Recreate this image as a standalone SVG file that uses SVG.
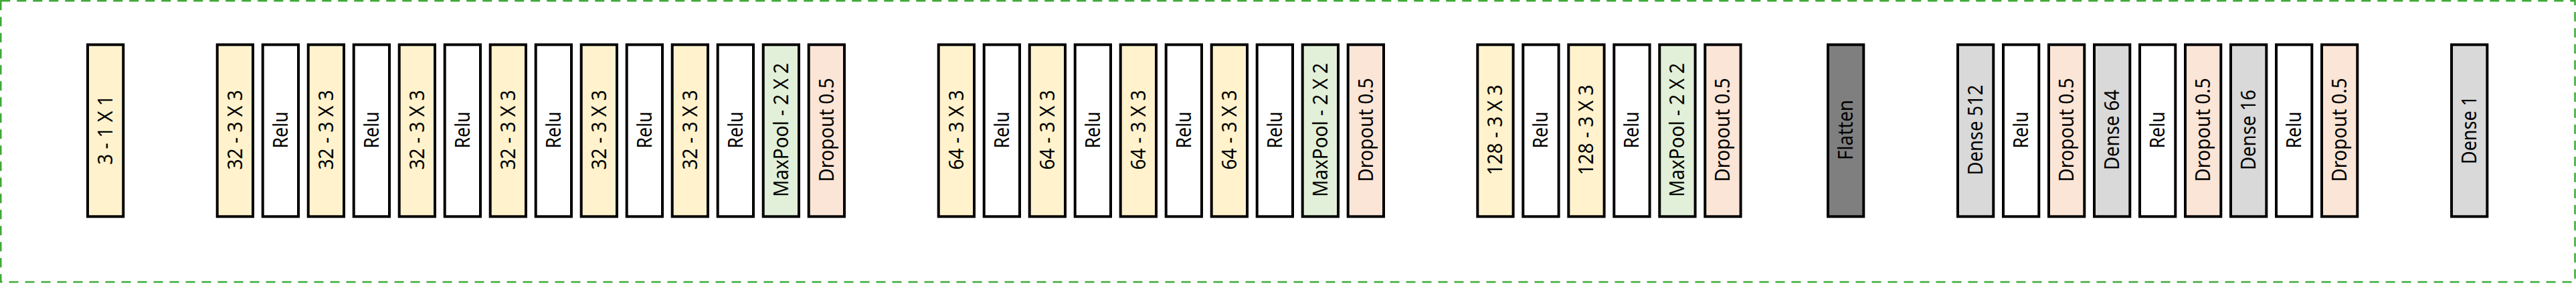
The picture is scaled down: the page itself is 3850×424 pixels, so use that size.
<svg xmlns="http://www.w3.org/2000/svg" width="3850" height="424" viewBox="0 0 3850 424">
<style>
  .box { stroke: #000; stroke-width: 4; }
  .conv { fill: #FFF2CC; }
  .relu { fill: #FFFFFF; }
  .pool { fill: #E2F0D9; }
  .drop { fill: #FBE5D6; }
  .dense { fill: #D9D9D9; }
  .flat { fill: #7F7F7F; }
  .lbl { font-family: "Noto Sans", "Open Sans", "Liberation Sans", sans-serif; font-size: 30px; fill: #000; text-anchor: middle; }
  .frame { fill: none; stroke: #3DAA36; stroke-width: 2.5; stroke-dasharray: 14 10; }
</style>
<rect class="frame" x="1.25" y="1.25" width="3847.25" height="419.75"/>
<g id="connectors"/>
<g id="input"><rect class="box conv" x="131" y="66.7" width="53.3" height="256.6"/><text class="lbl" transform="translate(157.65,194) rotate(-90)" x="0" y="10.5" textLength="104" lengthAdjust="spacingAndGlyphs">3 - 1 X 1</text></g>
<g id="g1-conv1"><rect class="box conv" x="324.7" y="66.7" width="53.3" height="256.6"/><text class="lbl" transform="translate(351.35,194) rotate(-90)" x="0" y="10.5" textLength="119" lengthAdjust="spacingAndGlyphs">32 - 3 X 3</text></g>
<g id="g1-relu1"><rect class="box relu" x="392.7" y="66.7" width="53.3" height="256.6"/><text class="lbl" transform="translate(419.35,194) rotate(-90)" x="0" y="10.5" textLength="55" lengthAdjust="spacingAndGlyphs">Relu</text></g>
<g id="g1-conv2"><rect class="box conv" x="460.7" y="66.7" width="53.3" height="256.6"/><text class="lbl" transform="translate(487.35,194) rotate(-90)" x="0" y="10.5" textLength="119" lengthAdjust="spacingAndGlyphs">32 - 3 X 3</text></g>
<g id="g1-relu2"><rect class="box relu" x="528.7" y="66.7" width="53.3" height="256.6"/><text class="lbl" transform="translate(555.35,194) rotate(-90)" x="0" y="10.5" textLength="55" lengthAdjust="spacingAndGlyphs">Relu</text></g>
<g id="g1-conv3"><rect class="box conv" x="596.7" y="66.7" width="53.3" height="256.6"/><text class="lbl" transform="translate(623.35,194) rotate(-90)" x="0" y="10.5" textLength="119" lengthAdjust="spacingAndGlyphs">32 - 3 X 3</text></g>
<g id="g1-relu3"><rect class="box relu" x="664.7" y="66.7" width="53.3" height="256.6"/><text class="lbl" transform="translate(691.35,194) rotate(-90)" x="0" y="10.5" textLength="55" lengthAdjust="spacingAndGlyphs">Relu</text></g>
<g id="g1-conv4"><rect class="box conv" x="732.7" y="66.7" width="53.3" height="256.6"/><text class="lbl" transform="translate(759.35,194) rotate(-90)" x="0" y="10.5" textLength="119" lengthAdjust="spacingAndGlyphs">32 - 3 X 3</text></g>
<g id="g1-relu4"><rect class="box relu" x="800.7" y="66.7" width="53.3" height="256.6"/><text class="lbl" transform="translate(827.35,194) rotate(-90)" x="0" y="10.5" textLength="55" lengthAdjust="spacingAndGlyphs">Relu</text></g>
<g id="g1-conv5"><rect class="box conv" x="868.7" y="66.7" width="53.3" height="256.6"/><text class="lbl" transform="translate(895.35,194) rotate(-90)" x="0" y="10.5" textLength="119" lengthAdjust="spacingAndGlyphs">32 - 3 X 3</text></g>
<g id="g1-relu5"><rect class="box relu" x="936.7" y="66.7" width="53.3" height="256.6"/><text class="lbl" transform="translate(963.35,194) rotate(-90)" x="0" y="10.5" textLength="55" lengthAdjust="spacingAndGlyphs">Relu</text></g>
<g id="g1-conv6"><rect class="box conv" x="1004.7" y="66.7" width="53.3" height="256.6"/><text class="lbl" transform="translate(1031.35,194) rotate(-90)" x="0" y="10.5" textLength="119" lengthAdjust="spacingAndGlyphs">32 - 3 X 3</text></g>
<g id="g1-relu6"><rect class="box relu" x="1072.7" y="66.7" width="53.3" height="256.6"/><text class="lbl" transform="translate(1099.35,194) rotate(-90)" x="0" y="10.5" textLength="55" lengthAdjust="spacingAndGlyphs">Relu</text></g>
<g id="g1-pool"><rect class="box pool" x="1140.7" y="66.7" width="53.3" height="256.6"/><text class="lbl" transform="translate(1167.35,194) rotate(-90)" x="0" y="10.5" textLength="200" lengthAdjust="spacingAndGlyphs">MaxPool - 2 X 2</text></g>
<g id="g1-drop"><rect class="box drop" x="1208.7" y="66.7" width="53.3" height="256.6"/><text class="lbl" transform="translate(1235.35,194) rotate(-90)" x="0" y="10.5" textLength="155" lengthAdjust="spacingAndGlyphs">Dropout 0.5</text></g>
<g id="g2-conv1"><rect class="box conv" x="1402.7" y="66.7" width="53.3" height="256.6"/><text class="lbl" transform="translate(1429.35,194) rotate(-90)" x="0" y="10.5" textLength="119" lengthAdjust="spacingAndGlyphs">64 - 3 X 3</text></g>
<g id="g2-relu1"><rect class="box relu" x="1470.7" y="66.7" width="53.3" height="256.6"/><text class="lbl" transform="translate(1497.35,194) rotate(-90)" x="0" y="10.5" textLength="55" lengthAdjust="spacingAndGlyphs">Relu</text></g>
<g id="g2-conv2"><rect class="box conv" x="1538.7" y="66.7" width="53.3" height="256.6"/><text class="lbl" transform="translate(1565.35,194) rotate(-90)" x="0" y="10.5" textLength="119" lengthAdjust="spacingAndGlyphs">64 - 3 X 3</text></g>
<g id="g2-relu2"><rect class="box relu" x="1606.7" y="66.7" width="53.3" height="256.6"/><text class="lbl" transform="translate(1633.35,194) rotate(-90)" x="0" y="10.5" textLength="55" lengthAdjust="spacingAndGlyphs">Relu</text></g>
<g id="g2-conv3"><rect class="box conv" x="1674.7" y="66.7" width="53.3" height="256.6"/><text class="lbl" transform="translate(1701.35,194) rotate(-90)" x="0" y="10.5" textLength="119" lengthAdjust="spacingAndGlyphs">64 - 3 X 3</text></g>
<g id="g2-relu3"><rect class="box relu" x="1742.7" y="66.7" width="53.3" height="256.6"/><text class="lbl" transform="translate(1769.35,194) rotate(-90)" x="0" y="10.5" textLength="55" lengthAdjust="spacingAndGlyphs">Relu</text></g>
<g id="g2-conv4"><rect class="box conv" x="1810.7" y="66.7" width="53.3" height="256.6"/><text class="lbl" transform="translate(1837.35,194) rotate(-90)" x="0" y="10.5" textLength="119" lengthAdjust="spacingAndGlyphs">64 - 3 X 3</text></g>
<g id="g2-relu4"><rect class="box relu" x="1878.7" y="66.7" width="53.3" height="256.6"/><text class="lbl" transform="translate(1905.35,194) rotate(-90)" x="0" y="10.5" textLength="55" lengthAdjust="spacingAndGlyphs">Relu</text></g>
<g id="g2-pool"><rect class="box pool" x="1946.7" y="66.7" width="53.3" height="256.6"/><text class="lbl" transform="translate(1973.35,194) rotate(-90)" x="0" y="10.5" textLength="200" lengthAdjust="spacingAndGlyphs">MaxPool - 2 X 2</text></g>
<g id="g2-drop"><rect class="box drop" x="2014.7" y="66.7" width="53.3" height="256.6"/><text class="lbl" transform="translate(2041.35,194) rotate(-90)" x="0" y="10.5" textLength="155" lengthAdjust="spacingAndGlyphs">Dropout 0.5</text></g>
<g id="g3-conv1"><rect class="box conv" x="2208.3" y="66.7" width="53.3" height="256.6"/><text class="lbl" transform="translate(2234.95,194) rotate(-90)" x="0" y="10.5" textLength="135" lengthAdjust="spacingAndGlyphs">128 - 3 X 3</text></g>
<g id="g3-relu1"><rect class="box relu" x="2276.3" y="66.7" width="53.3" height="256.6"/><text class="lbl" transform="translate(2302.95,194) rotate(-90)" x="0" y="10.5" textLength="55" lengthAdjust="spacingAndGlyphs">Relu</text></g>
<g id="g3-conv2"><rect class="box conv" x="2344.3" y="66.7" width="53.3" height="256.6"/><text class="lbl" transform="translate(2370.95,194) rotate(-90)" x="0" y="10.5" textLength="135" lengthAdjust="spacingAndGlyphs">128 - 3 X 3</text></g>
<g id="g3-relu2"><rect class="box relu" x="2412.3" y="66.7" width="53.3" height="256.6"/><text class="lbl" transform="translate(2438.95,194) rotate(-90)" x="0" y="10.5" textLength="55" lengthAdjust="spacingAndGlyphs">Relu</text></g>
<g id="g3-pool"><rect class="box pool" x="2480.3" y="66.7" width="53.3" height="256.6"/><text class="lbl" transform="translate(2506.95,194) rotate(-90)" x="0" y="10.5" textLength="200" lengthAdjust="spacingAndGlyphs">MaxPool - 2 X 2</text></g>
<g id="g3-drop"><rect class="box drop" x="2548.3" y="66.7" width="53.3" height="256.6"/><text class="lbl" transform="translate(2574.95,194) rotate(-90)" x="0" y="10.5" textLength="155" lengthAdjust="spacingAndGlyphs">Dropout 0.5</text></g>
<g id="flatten"><rect class="box flat" x="2732" y="66.7" width="53.3" height="256.6"/><text class="lbl" transform="translate(2758.65,194) rotate(-90)" x="0" y="10.5" textLength="90" lengthAdjust="spacingAndGlyphs">Flatten</text></g>
<g id="dense512"><rect class="box dense" x="2926" y="66.7" width="53.3" height="256.6"/><text class="lbl" transform="translate(2952.65,194) rotate(-90)" x="0" y="10.5" textLength="135" lengthAdjust="spacingAndGlyphs">Dense 512</text></g>
<g id="d-relu1"><rect class="box relu" x="2994" y="66.7" width="53.3" height="256.6"/><text class="lbl" transform="translate(3020.65,194) rotate(-90)" x="0" y="10.5" textLength="55" lengthAdjust="spacingAndGlyphs">Relu</text></g>
<g id="d-drop1"><rect class="box drop" x="3062" y="66.7" width="53.3" height="256.6"/><text class="lbl" transform="translate(3088.65,194) rotate(-90)" x="0" y="10.5" textLength="155" lengthAdjust="spacingAndGlyphs">Dropout 0.5</text></g>
<g id="dense64"><rect class="box dense" x="3130" y="66.7" width="53.3" height="256.6"/><text class="lbl" transform="translate(3156.65,194) rotate(-90)" x="0" y="10.5" textLength="120" lengthAdjust="spacingAndGlyphs">Dense 64</text></g>
<g id="d-relu2"><rect class="box relu" x="3198" y="66.7" width="53.3" height="256.6"/><text class="lbl" transform="translate(3224.65,194) rotate(-90)" x="0" y="10.5" textLength="55" lengthAdjust="spacingAndGlyphs">Relu</text></g>
<g id="d-drop2"><rect class="box drop" x="3266" y="66.7" width="53.3" height="256.6"/><text class="lbl" transform="translate(3292.65,194) rotate(-90)" x="0" y="10.5" textLength="155" lengthAdjust="spacingAndGlyphs">Dropout 0.5</text></g>
<g id="dense16"><rect class="box dense" x="3334" y="66.7" width="53.3" height="256.6"/><text class="lbl" transform="translate(3360.65,194) rotate(-90)" x="0" y="10.5" textLength="120" lengthAdjust="spacingAndGlyphs">Dense 16</text></g>
<g id="d-relu3"><rect class="box relu" x="3402" y="66.7" width="53.3" height="256.6"/><text class="lbl" transform="translate(3428.65,194) rotate(-90)" x="0" y="10.5" textLength="55" lengthAdjust="spacingAndGlyphs">Relu</text></g>
<g id="d-drop3"><rect class="box drop" x="3470" y="66.7" width="53.3" height="256.6"/><text class="lbl" transform="translate(3496.65,194) rotate(-90)" x="0" y="10.5" textLength="155" lengthAdjust="spacingAndGlyphs">Dropout 0.5</text></g>
<g id="dense1"><rect class="box dense" x="3664" y="66.7" width="53.3" height="256.6"/><text class="lbl" transform="translate(3690.65,194) rotate(-90)" x="0" y="10.5" textLength="102" lengthAdjust="spacingAndGlyphs">Dense 1</text></g>
</svg>
